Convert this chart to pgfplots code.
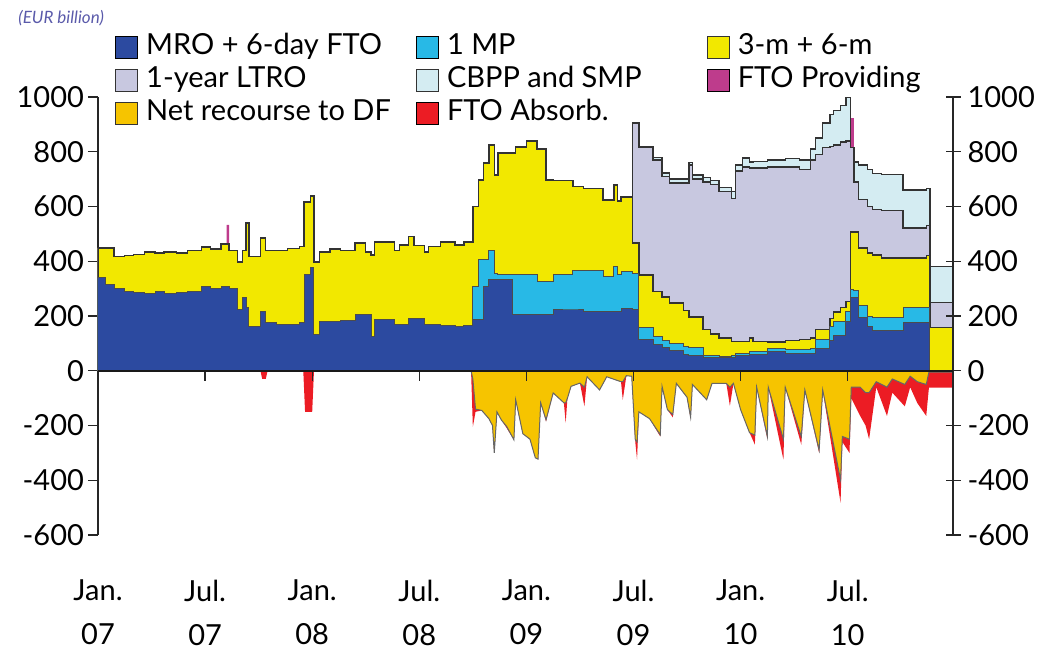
\documentclass[border=0pt]{standalone}
\usepackage{pgfplots}
\pgfplotsset{compat=1.18}
\usepackage{pgfplotstable}
\usepackage{fontspec}
\setmainfont{Lato}
\definecolor{mro}{RGB}{44,74,160}
\definecolor{mp}{RGB}{40,185,230}
\definecolor{tm}{RGB}{242,232,0}
\definecolor{ltro}{RGB}{200,200,224}
\definecolor{cbpp}{RGB}{212,236,242}
\definecolor{ftop}{RGB}{190,60,140}
\definecolor{df}{RGB}{246,196,0}
\definecolor{ftoa}{RGB}{236,28,36}
\definecolor{eur}{RGB}{90,90,170}
\newcommand{\bigf}{\fontsize{14.5}{17.4}\selectfont}

\pgfplotstableread{
x M C Y L T P
0 340 340 449 449 449 449
0.4 314 314 449 449 449 449
0.9 300 300 417 417 417 417
1.5 290 290 420 420 420 420
2.0 285 285 425 425 425 425
2.6 281 281 434 434 434 434
3.2 290 290 430 430 430 430
3.7 281 281 434 434 434 434
4.4 285 285 430 430 430 430
5.0 290 290 440 440 440 440
5.8 307 307 452 452 452 452
6.3 300 300 445 445 445 445
6.9 307 307 463 463 463 463
7.2 307 307 463 463 463 533
7.35 300 300 440 440 440 440
7.8 222 222 398 398 398 398
8.1 266 266 440 440 440 440
8.3 230 230 540 540 540 540
8.45 160 160 417 417 417 417
9.1 215 215 485 485 485 485
9.4 175 175 440 440 440 440
10.0 168 168 440 440 440 440
10.6 168 168 447 447 447 447
11.3 175 175 453 453 453 453
11.55 350 350 616 616 616 616
11.9 376 376 638 638 638 638
12.1 131 131 398 398 398 398
12.4 180 180 434 434 434 434
13.0 180 180 445 445 445 445
13.6 185 185 440 440 440 440
14.4 204 204 467 467 467 467
15.0 204 204 434 434 434 434
15.3 124 124 423 423 423 423
15.5 186 186 470 470 470 470
16.6 168 168 440 440 440 440
16.9 168 168 460 460 460 460
17.4 190 190 490 490 490 490
17.7 190 190 458 458 458 458
18.3 170 170 434 434 434 434
18.5 170 170 455 455 455 455
19.2 165 165 470 470 470 470
20.0 160 160 460 460 460 460
20.5 165 165 470 470 470 470
21.0 186 307 600 600 600 600
21.3 186 405 697 697 697 697
21.6 306 405 759 759 759 759
21.9 332 440 825 825 825 825
22.2 332 357 715 715 715 715
22.4 332 353 795 795 795 795
23.2 204 353 795 795 795 795
23.4 204 353 818 818 818 818
24.0 204 353 840 840 840 840
24.6 204 325 810 810 810 810
25.1 204 325 697 697 697 697
25.5 222 350 695 695 695 695
26.6 222 368 672 672 672 672
27.2 215 368 665 665 665 665
28.3 215 343 624 624 624 624
28.9 215 380 678 678 678 678
29.1 215 350 620 620 620 620
29.3 226 362 635 635 635 635
29.95 222 357 467 905 905 905
30.3 113 157 350 815 820 820
31.1 95 125 290 770 780 780
31.6 85 110 270 710 722 722
32.0 75 100 248 686 700 700
32.8 60 90 220 686 700 700
33.1 55 85 197 752 760 760
33.3 55 85 197 700 715 715
33.9 47 55 150 690 705 705
34.3 47 55 135 680 695 695
34.8 47 52 120 655 670 670
35.5 50 55 107 630 655 655
35.7 55 62 107 730 752 752
36.1 55 62 107 745 777 777
36.5 60 70 120 740 762 762
36.7 60 70 107 740 765 765
37.5 70 83 105 745 770 770
38.5 62 77 110 745 775 775
39.3 62 77 115 735 770 770
39.9 62 80 120 770 810 810
40.2 80 113 150 790 850 850
40.6 80 113 150 815 905 905
41.0 110 160 190 820 935 935
41.2 130 180 215 825 950 950
41.6 130 180 230 835 970 970
41.9 180 215 252 840 1000 1000
42.15 267 296 507 815 815 923
42.35 267 295 507 690 763 763
42.6 193 240 448 625 752 752
43.1 160 200 430 600 735 735
43.4 146 193 423 588 720 720
43.9 146 193 412 585 718 718
45.1 175 230 412 522 660 660
46.4 175 230 420 530 665 665
46.6 0 0 157 250 380 380
47.9 0 0 157 250 380 380
}\pos

\pgfplotstableread{
x D R
0 0 0
9.1 0 0
9.2 0 -30
9.4 0 -30
9.5 0 0
11.5 0 0
11.6 0 -150
12.0 0 -150
12.1 0 0
20.9 0 0
21.0 -30 -205
21.15 -140 -150
21.5 -145 -145
21.9 -175 -175
22.1 -200 -200
22.2 -300 -300
22.35 -150 -150
22.6 -180 -180
22.9 -204 -210
23.3 -252 -252
23.4 -106 -106
23.8 -230 -230
24.2 -250 -250
24.5 -318 -318
24.65 -323 -323
24.8 -117 -117
25.1 -179 -185
25.5 -81 -81
26.1 -117 -117
26.2 -117 -190
26.3 -100 -100
26.5 -57 -57
27.0 -45 -45
27.25 -60 -130
27.4 -22 -22
28.1 -70 -70
28.5 -22 -22
29.3 -40 -40
29.4 -40 -106
29.6 -18 -18
29.9 -20 -20
30.1 -252 -260
30.2 -260 -325
30.3 -150 -150
30.9 -175 -175
31.5 -234 -240
31.6 -57 -57
31.9 -142 -142
32.2 -160 -170
32.4 -46 -46
33.0 -97 -97
33.2 -170 -175
33.3 -50 -50
34.1 -106 -106
34.4 -46 -46
35.2 -46 -46
35.4 -60 -128
35.6 -46 -46
36.0 -142 -142
36.5 -226 -226
36.8 -235 -270
36.9 -60 -60
37.5 -240 -250
37.55 -60 -60
38.4 -250 -325
38.5 -60 -60
39.4 -240 -270
39.6 -70 -70
40.4 -290 -300
40.6 -70 -70
41.6 -398 -482
41.7 -240 -260
42.1 -250 -300
42.2 -60 -100
42.7 -60 -165
43.0 -80 -200
43.2 -80 -250
43.6 -40 -60
44.2 -60 -165
44.5 -30 -80
45.2 -50 -130
45.5 -20 -60
45.9 -40 -118
46.4 -50 -165
46.55 -5 -62
47.9 -5 -62
}\negs

\begin{document}
\begin{tikzpicture}
\path[use as bounding box] (-49pt,-59.5pt) rectangle (477pt,267.5pt);
\pgfplotsset{
  base/.style={scale only axis, width=427.5pt, height=219pt,
    xmin=0, xmax=47.9, ymin=-600, ymax=1000},
}
\begin{axis}[base,
  axis y line*=left, axis x line*=bottom,
  x axis line style={draw=none},
  xtick={0,6,12,18,24,30,36,42},
  xticklabels={{Jan.\\07},{Jul.\\07},{Jan.\\08},{Jul.\\08},{Jan.\\09},{Jul.\\09},{Jan.\\10},{Jul.\\10}},
  xticklabel style={align=center, font=\fontsize{14.5}{22}\selectfont, yshift=-19pt},
  x tick style={draw=none},
  ytick={-600,-400,-200,0,200,400,600,800,1000},
  yticklabels={-600,-400,-200,0,200,400,600,800,1000},
  ytick align=outside, major tick length=5pt,
  yticklabel style={font=\bigf, xshift=1.5pt},
  y axis line style={line width=0.6pt, black!85},
  y tick style={line width=0.6pt, black!85},
  legend columns=3,
  legend cell align=left,
  legend style={at={(0.0199,1.1518)}, anchor=north west, draw=none, fill=none,
    inner sep=0pt, column sep=0pt, row sep=0pt, font=\bigf,
    nodes={inner sep=1pt, text height=11pt, text depth=3.5pt}},
  legend image code/.code={\path[#1] (0pt,-5.5pt) rectangle (11pt,5.5pt); \path (14pt,0pt);},
]
\addplot[const plot, fill=ftop, draw=none, forget plot] table[x=x,y=P]{\pos} \closedcycle;
\addplot[const plot, fill=cbpp, draw=black!80, line width=0.7pt, forget plot] table[x=x,y=T]{\pos} \closedcycle;
\addplot[const plot, fill=ltro, draw=black!80, line width=0.7pt, forget plot] table[x=x,y=L]{\pos} \closedcycle;
\addplot[const plot, fill=tm, draw=black!80, line width=0.7pt, forget plot] table[x=x,y=Y]{\pos} \closedcycle;
\addplot[const plot, fill=mp, draw=black!70, line width=0.5pt, forget plot] table[x=x,y=C]{\pos} \closedcycle;
\addplot[const plot, fill=mro, draw=black!70, line width=0.5pt, forget plot] table[x=x,y=M]{\pos} \closedcycle;
\addplot[fill=ftoa, draw=none, forget plot] table[x=x,y=R]{\negs} \closedcycle;
\addplot[fill=df, draw=black!60, line width=0.5pt, forget plot] table[x=x,y=D]{\negs} \closedcycle;

\addlegendimage{fill=mro}
\addlegendimage{fill=mp}
\addlegendimage{fill=tm, draw=black!80}
\addlegendimage{fill=ltro, draw=black!80}
\addlegendimage{fill=cbpp, draw=black!80}
\addlegendimage{fill=ftop}
\addlegendimage{fill=df, draw=black!80}
\addlegendimage{fill=ftoa}
\legend{\makebox[134pt][l]{MRO + 6-day FTO},\makebox[129pt][l]{1 MP},\makebox[110pt][l]{3-m + 6-m},
\makebox[134pt][l]{1-year LTRO},\makebox[129pt][l]{CBPP and SMP},\makebox[110pt][l]{FTO Providing},
\makebox[134pt][l]{Net recourse to DF},\makebox[129pt][l]{FTO Absorb.}}
\end{axis}

\begin{axis}[base,
  axis y line*=right, axis x line=none,
  ytick={-600,-400,-200,0,200,400,600,800,1000},
  yticklabels={-600,-400,-200,0,200,400,600,800,1000},
  ytick align=center, major tick length=7.5pt,
  yticklabel style={font=\bigf},
  y axis line style={line width=0.6pt, black!85},
  y tick style={line width=0.6pt, black!85},
]
\addplot[draw=none] coordinates {(0,0)};
\end{axis}

\begin{axis}[base,
  axis x line*=middle, axis y line=none,
  xtick={0,6,12,18,24,30,36,42}, xticklabels={},
  xtick align=outside, major tick length=5pt,
  x axis line style={line width=0.8pt, black!90},
  x tick style={line width=0.6pt, black!85},
]
\addplot[draw=none] coordinates {(0,0)};
\end{axis}

\node[anchor=west, font=\fontsize{8.5}{10}\selectfont\itshape, text=eur, inner sep=0pt] at (-40pt,258.5pt) {(EUR billion)};
\end{tikzpicture}
\end{document}
